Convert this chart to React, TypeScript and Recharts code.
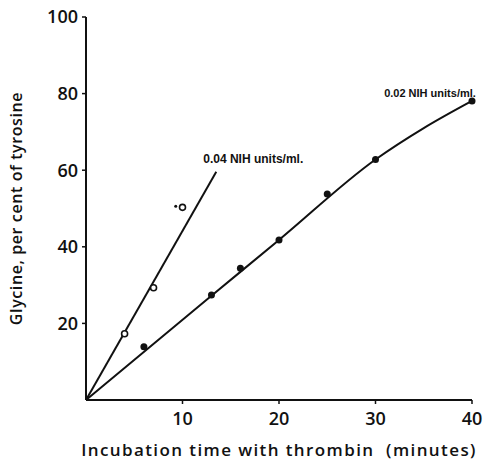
import {
  ComposedChart,
  Line,
  Scatter,
  XAxis,
  YAxis,
  ReferenceDot,
} from "recharts";

// open circles, 0.04 NIH units/ml
const minutes04 = [4, 7, 10];
const glycine04 = [17.3, 29.3, 50.3];
// small stray dot next to the 10 min open circle
const strayDot = [{ x: 9.3, y: 50.6 }];

// filled circles, 0.02 NIH units/ml
const minutes02 = [6, 13, 16, 20, 25, 30, 40];
const glycine02 = [13.9, 27.4, 34.4, 41.8, 53.8, 62.8, 78.1];

// drawn fit lines
const fit04X = [0, 13.5];
const fit04Y = [0, 59.6];
const fit02X = [0, 13, 20, 30, 35, 40];
const fit02Y = [0, 27.2, 41.8, 62.8, 71.0, 78.1];

const xTicks = [10, 20, 30, 40];
const yTicks = [20, 40, 60, 80, 100];

const zip = (xs: number[], ys: number[]) => xs.map((x, i) => ({ x, y: ys[i] }));

const pts04 = zip(minutes04, glycine04);
const pts02 = zip(minutes02, glycine02);
const line04 = zip(fit04X, fit04Y);
const line02 = zip(fit02X, fit02Y);

const FONT = "'Open Sans', sans-serif";

const tickStyle = { fill: "#111", fontSize: 18, fontWeight: 600, fontFamily: FONT };

const SeriesLabel = ({ viewBox, text, dx, dy, size }: any) => {
  const { x, y } = viewBox;
  return (
    <text
      x={x + dx}
      y={y + dy}
      textAnchor="middle"
      fontSize={size}
      fontFamily="'Liberation Sans Narrow', 'Liberation Sans', sans-serif"
      fontWeight={700}
      fill="#111"
      dominantBaseline="central"
    >
      {text}
    </text>
  );
};

export default function App() {
  return (
    <div style={{ position: "absolute", left: 0, top: 0, background: "#fff" }}>
      <ComposedChart
        width={483}
        height={461}
        margin={{ top: 17, right: 11, bottom: 0, left: 26 }}
      >
        <XAxis
          type="number"
          dataKey="x"
          domain={[0, 40]}
          ticks={xTicks}
          axisLine={{ stroke: "#111", strokeWidth: 2 }}
          tickLine={{ stroke: "#111", strokeWidth: 1.5 }}
          tickSize={4}
          tickMargin={8}
          tick={tickStyle}
          height={61}
          label={{
            value: "Incubation time with thrombin\u00a0 (minutes)",
            position: "insideBottom",
            offset: 5,
            style: {
              fill: "#111",
              fontSize: 17,
              fontWeight: 600,
              fontFamily: FONT,
              letterSpacing: 1.4,
            },
          }}
        />
        <YAxis
          type="number"
          dataKey="y"
          domain={[0, 100]}
          ticks={yTicks}
          width={60}
          axisLine={{ stroke: "#111", strokeWidth: 2 }}
          tickLine={{ stroke: "#111", strokeWidth: 1.5 }}
          tickSize={4}
          tickMargin={4}
          tick={tickStyle}
          label={{
            value: "Glycine, per cent of tyrosine",
            angle: -90,
            position: "insideLeft",
            offset: -10,
            style: {
              textAnchor: "middle",
              fill: "#111",
              fontSize: 16,
              fontWeight: 600,
              fontFamily: FONT,
              letterSpacing: 0.6,
            },
          }}
        />
        <Line
          data={line04}
          dataKey="y"
          type="linear"
          stroke="#111"
          strokeWidth={2}
          dot={false}
          isAnimationActive={false}
        />
        <Line
          data={line02}
          dataKey="y"
          type="monotone"
          stroke="#111"
          strokeWidth={2}
          dot={false}
          isAnimationActive={false}
        />
        <Scatter
          data={pts04}
          shape={(p: any) => (
            <circle cx={p.cx} cy={p.cy} r={3} fill="#fff" stroke="#111" strokeWidth={1.6} />
          )}
          isAnimationActive={false}
        />
        <Scatter
          data={strayDot}
          shape={(p: any) => <circle cx={p.cx} cy={p.cy} r={1.5} fill="#111" />}
          isAnimationActive={false}
        />
        <Scatter
          data={pts02}
          shape={(p: any) => <circle cx={p.cx} cy={p.cy} r={3.5} fill="#111" />}
          isAnimationActive={false}
        />
        <ReferenceDot
          x={fit04X[1]}
          y={fit04Y[1]}
          r={0}
          stroke="none"
          label={<SeriesLabel text="0.04 NIH units/ml." dx={37} dy={-13} size={12} />}
        />
        <ReferenceDot
          x={fit02X[fit02X.length - 1]}
          y={fit02Y[fit02Y.length - 1]}
          r={0}
          stroke="none"
          label={<SeriesLabel text="0.02 NIH units/ml." dx={-42} dy={-8} size={11} />}
        />
      </ComposedChart>
    </div>
  );
}
